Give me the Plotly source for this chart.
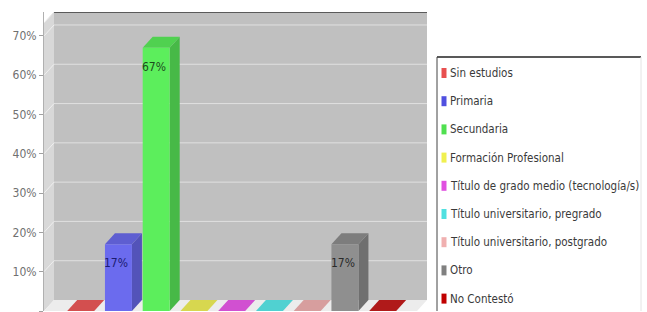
import plotly.graph_objects as go

# ---- data ----
categories = ["Sin estudios", "Primaria", "Secundaria", "Formación Profesional",
              "Título de grado medio (tecnología/s)", "Título universitario, pregrado",
              "Título universitario, postgrado", "Otro", "No Contestó"]
values = [0, 17, 67, 0, 0, 0, 0, 17, 0]
y_ticks = [0, 10, 20, 30, 40, 50, 60, 70]
y_tick_labels = ["0%", "10%", "20%", "30%", "40%", "50%", "60%", "70%"]

# ---- styles ----
colors = ["#f05a5a", "#6b6bee", "#5cee5c", "#f5f55a", "#ee5cee",
          "#5ceeee", "#f5b4b4", "#8f8f8f", "#c81e1e"]
legend_colors = ["#e85050", "#5050e0", "#50e050", "#f0f050", "#e050e0",
                 "#50e0e0", "#f0b0b0", "#808080", "#c00000"]
label_colors = ["#202020", "#1c1c70", "#1c4a1c", "#202020", "#202020",
                "#202020", "#202020", "#2a2a2a", "#202020"]
FONT = "DejaVu Sans Condensed, Liberation Sans Narrow, Arial"

W, H = 647, 312
ML, MR, MT, MB = 44, 220, 12, 1
PW, PH = W - ML - MR, H - MT - MB
XR = [-0.972, 9.174]
YR = [0, 76.1]
BAR_W = 0.715
DX = 0.265
DY = 2.8


def darken(hexc, f):
    r, g, b = int(hexc[1:3], 16), int(hexc[3:5], 16), int(hexc[5:7], 16)
    return "#%02x%02x%02x" % (int(r * f), int(g * f), int(b * f))


fig = go.Figure()
shapes = []
annotations = []

x0w, x1w = XR[0], XR[1]
# back wall
shapes.append(dict(type="rect", xref="x", yref="y", x0=x0w + DX, x1=x1w, y0=DY, y1=YR[1],
                   fillcolor="#c0c0c0", line=dict(width=0), layer="below"))
# left wall
shapes.append(dict(type="path", xref="x", yref="y",
                   path=f"M{x0w},0 L{x0w+DX},{DY} L{x0w+DX},{YR[1]} L{x0w},{YR[1]-DY} Z",
                   fillcolor="#d8d8d8", line=dict(width=0), layer="below"))
# floor
shapes.append(dict(type="path", xref="x", yref="y",
                   path=f"M{x0w},0 L{x0w+DX},{DY} L{x1w},{DY} L{x1w-DX},0 Z",
                   fillcolor="#ececec", line=dict(width=0), layer="below"))
# gridlines
for t in y_ticks[1:]:
    shapes.append(dict(type="line", xref="x", yref="y", x0=x0w + DX, x1=x1w, y0=t + DY, y1=t + DY,
                       line=dict(color="#e0e0e0", width=1), layer="below"))
    shapes.append(dict(type="line", xref="x", yref="y", x0=x0w, x1=x0w + DX, y0=t, y1=t + DY,
                       line=dict(color="#eeeeee", width=1), layer="below"))
# top edge
shapes.append(dict(type="line", xref="x", yref="y", x0=x0w + DX, x1=x1w, y0=YR[1], y1=YR[1],
                   line=dict(color="#5a5a5a", width=2), layer="below"))
shapes.append(dict(type="line", xref="x", yref="y", x0=x0w, x1=x0w + DX, y0=YR[1] - DY, y1=YR[1],
                   line=dict(color="#e8e8e8", width=1), layer="below"))

for i, (cat, v) in enumerate(zip(categories, values)):
    c = colors[i]
    l, r = i - BAR_W / 2, i + BAR_W / 2
    if v > 0:
        shapes.append(dict(type="path", xref="x", yref="y",
                           path=f"M{r},0 L{r+DX},{DY} L{r+DX},{v+DY} L{r},{v} Z",
                           fillcolor=darken(c, 0.78), line=dict(width=0), layer="below"))
    shapes.append(dict(type="path", xref="x", yref="y",
                       path=f"M{l},{v} L{l+DX},{v+DY} L{r+DX},{v+DY} L{r},{v} Z",
                       fillcolor=darken(c, 0.88), line=dict(width=0), layer="below"))
    fig.add_trace(go.Bar(x=[i], y=[v], width=BAR_W, name=cat, showlegend=False,
                         marker=dict(color=c, line=dict(width=0)),
                         hovertemplate=f"{cat}: %{{y}}%<extra></extra>"))
    if v > 0:
        annotations.append(dict(x=i, y=v, xref="x", yref="y", text=f"{v}%", showarrow=False,
                                xanchor="center", yanchor="top", yshift=-10, xshift=-2,
                                font=dict(size=12, color=label_colors[i], family=FONT)))


def px2paper_x(px):
    return (px - ML) / PW


def px2paper_y(py):
    return (H - MB - py) / PH


# legend box (top and left borders, faint right edge)
shapes.append(dict(type="rect", xref="paper", yref="paper",
                   x0=px2paper_x(437), x1=px2paper_x(641), y0=px2paper_y(311), y1=px2paper_y(57),
                   line=dict(width=0), fillcolor="white", layer="above"))
shapes.append(dict(type="line", xref="paper", yref="paper",
                   x0=px2paper_x(437), x1=px2paper_x(641), y0=px2paper_y(57), y1=px2paper_y(57),
                   line=dict(color="#222222", width=1.5), layer="above"))
shapes.append(dict(type="line", xref="paper", yref="paper",
                   x0=px2paper_x(437), x1=px2paper_x(437), y0=px2paper_y(311), y1=px2paper_y(57),
                   line=dict(color="#444444", width=1), layer="above"))
shapes.append(dict(type="line", xref="paper", yref="paper",
                   x0=px2paper_x(641), x1=px2paper_x(641), y0=px2paper_y(311), y1=px2paper_y(57),
                   line=dict(color="#e4e4e4", width=1), layer="above"))
for i, cat in enumerate(categories):
    yc = 73 + 28.2 * i
    shapes.append(dict(type="rect", xref="paper", yref="paper",
                       x0=px2paper_x(441.5), x1=px2paper_x(446.5),
                       y0=px2paper_y(yc + 5), y1=px2paper_y(yc - 5),
                       fillcolor=legend_colors[i], line=dict(width=0), layer="above"))
    annotations.append(dict(x=px2paper_x(448), y=px2paper_y(yc), xref="paper", yref="paper",
                            text=cat, showarrow=False, xanchor="left", yanchor="middle",
                            font=dict(size=11.5, color="#3a3a3a", family=FONT)))

fig.update_layout(
    width=W, height=H, autosize=False,
    margin=dict(l=ML, r=MR, t=MT, b=MB, pad=0),
    paper_bgcolor="white", plot_bgcolor="white",
    barmode="overlay", showlegend=False,
    shapes=shapes, annotations=annotations,
    xaxis=dict(range=XR, visible=False, fixedrange=True),
    yaxis=dict(range=YR, tickvals=y_ticks, ticktext=y_tick_labels, showgrid=False,
               zeroline=False, showline=True, linecolor="#b0b0b0", linewidth=1,
               ticks="outside", ticklen=4, tickcolor="#a0a0a0",
               tickfont=dict(size=12, color="#707070", family=FONT),
               fixedrange=True),
)

post = (
    "document.body.style.margin='0';"
    "document.documentElement.style.overflow='hidden';"
)
fig.write_html("out.html", config={"displayModeBar": False}, post_script=post)
